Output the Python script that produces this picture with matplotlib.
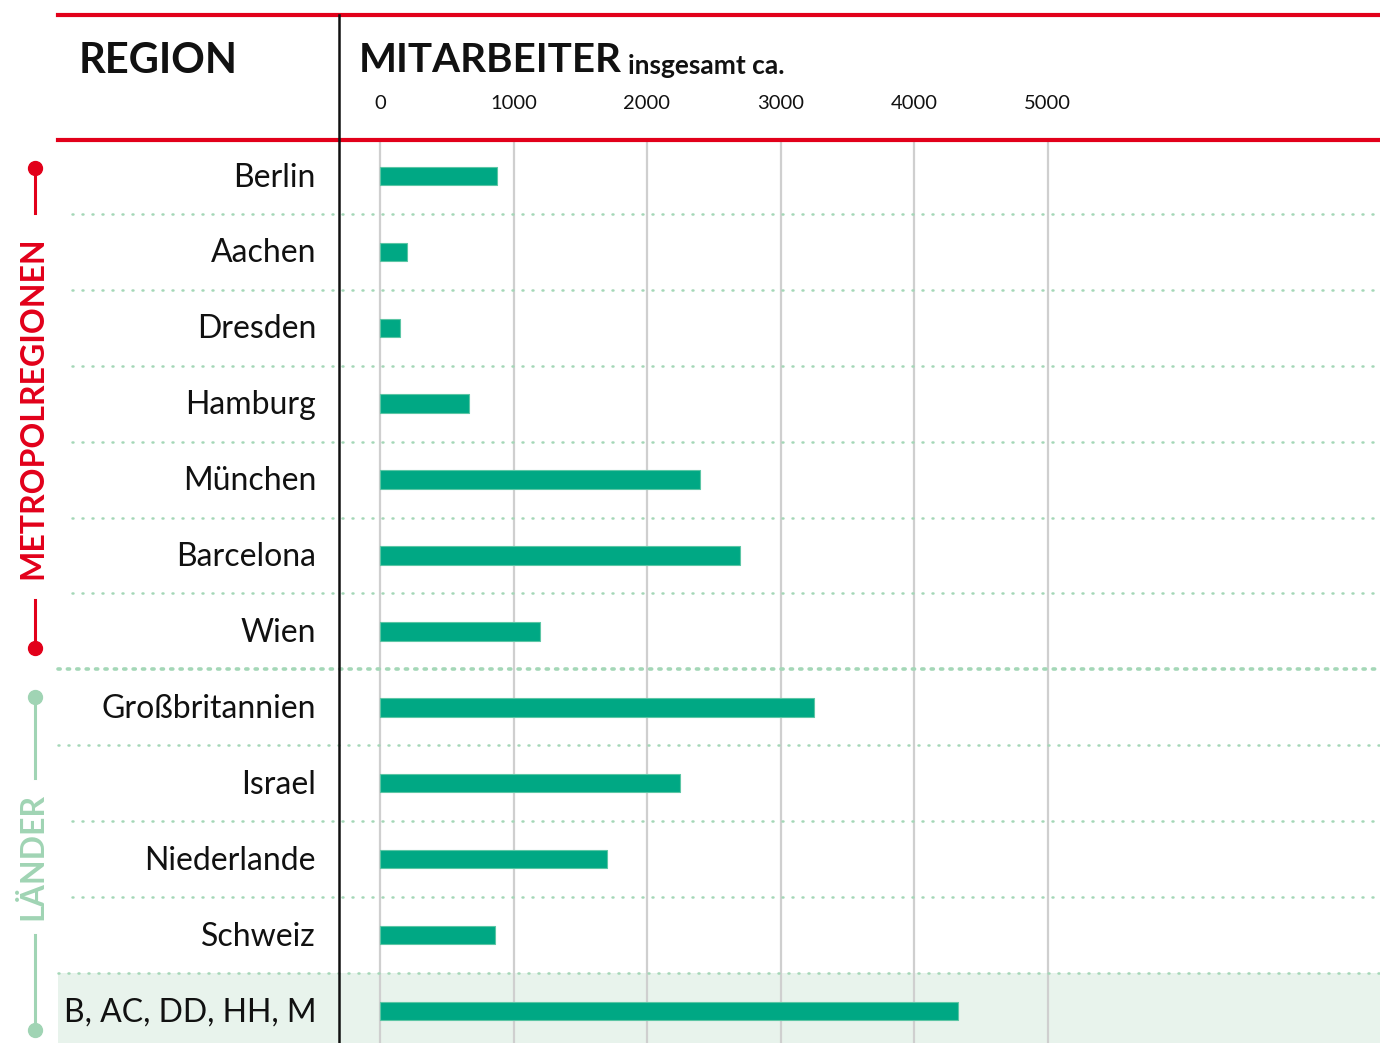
import matplotlib
matplotlib.use("Agg")
import matplotlib.pyplot as plt
from matplotlib.lines import Line2D

plt.rcParams['font.family'] = ['Lato', 'DejaVu Sans']

# ---- data ----
regions = ["Berlin", "Aachen", "Dresden", "Hamburg", "München", "Barcelona", "Wien",
           "Großbritannien", "Israel", "Niederlande", "Schweiz", "B, AC, DD, HH, M"]
employees = [880, 200, 150, 670, 2400, 2700, 1200, 3250, 2250, 1700, 860, 4330]
ticks = [0, 1000, 2000, 3000, 4000, 5000]
tick_labels = ["0", "1000", "2000", "3000", "4000", "5000"]
group_labels = ["METROPOLREGIONEN", "LÄNDER"]
title_left = "REGION"
title_right = "MITARBEITER"
title_sub = "insgesamt ca."

# ---- style ----
RED = "#e2001a"
BAR = "#00a884"
DOT = "#a4d7b7"
LGREEN = "#a0d4b4"
HILITE = "#e8f3ec"
GRID = "#cfcfcf"

W, H = 1380, 1043
fig = plt.figure(figsize=(W / 100, H / 100), dpi=100)

# pixel <-> data mapping for main axes
X0, XS = 380.0, 0.1335      # pixel of value 0, pixels per unit
Y0, YS = 176.0, 75.9        # pixel of row 0, pixels per row
def vx(p): return (p - X0) / XS
def ry(p): return (p - Y0) / YS

ax = fig.add_axes([0, 0, 1, 1])
ax.set_xlim(vx(0), vx(W))
ax.set_ylim(ry(H), ry(0))
ax.axis("off")

n = len(regions)
rows = list(range(n))

# highlighted last row
ax.axhspan(n - 1.5, ry(H) + 1, xmin=58 / W, xmax=1, color=HILITE, zorder=0, lw=0)

# vertical grid
ax.vlines(ticks, ry(140), ry(H), color=GRID, lw=1.6, zorder=1)

# dotted dividers
for i in range(n - 1):
    y = i + 0.5
    if i == 6:
        ax.plot([vx(58), vx(W)], [y, y], color=DOT, lw=2.6,
                linestyle=(0, (0.6, 2.0)), dash_capstyle='round', zorder=2)
    else:
        start = 58 if i in (7, 10) else 72
        ax.plot([vx(start), vx(W)], [y, y], color=DOT, lw=1.8,
                linestyle=(0, (0.4, 3.6)), dash_capstyle='round', zorder=2)

# bars
ax.barh(rows, employees, left=0, height=0.245, color=BAR,
        edgecolor="#5cc6a5", linewidth=0.8, zorder=3)

# region labels
for r, name in zip(rows, regions):
    ax.text(vx(316), r + 0.02, name, ha="right", va="center", fontsize=23,
            color="#111111", zorder=4)

# tick labels in header
for t, lab in zip(ticks, tick_labels):
    ax.text(t, ry(104), lab, ha="center", va="center", fontsize=14.5,
            color="#111111")

# ---- decorations in pixel overlay ----
ov = fig.add_axes([0, 0, 1, 1], facecolor="none")
ov.set_xlim(0, W)
ov.set_ylim(H, 0)
ov.axis("off")

ov.add_line(Line2D([58, W], [15, 15], color=RED, lw=3.0))
ov.add_line(Line2D([58, W], [140, 140], color=RED, lw=3.0))
ov.add_line(Line2D([339, 339], [15, H], color="#111111", lw=1.8))

ov.text(79, 61, title_left, fontsize=30, fontweight="bold", ha="left",
        va="center", color="#111111")
t_main = ov.text(359, 61, title_right, fontsize=29, fontweight="bold", ha="left",
                 va="center", color="#111111")
fig.canvas.draw()
bb = t_main.get_window_extent()
sub_x = bb.x1 + 6
ov.text(sub_x, 66, title_sub, fontsize=19, fontweight="bold", ha="left",
        va="center", color="#111111")

# group brackets
bx = 35
ov.add_line(Line2D([bx, bx], [168, 213], color=RED, lw=2.2))
ov.add_line(Line2D([bx, bx], [600, 648], color=RED, lw=2.2))
ov.plot([bx, bx], [168, 648], ls="none", marker="o", ms=10, color=RED)
ov.text(bx - 2, 408, group_labels[0], rotation=90, ha="center", va="center",
        fontsize=23, fontweight="bold", color=RED)

ov.add_line(Line2D([bx, bx], [697, 778], color=LGREEN, lw=2.2))
ov.add_line(Line2D([bx, bx], [935, 1030], color=LGREEN, lw=2.2))
ov.plot([bx, bx], [697, 1030], ls="none", marker="o", ms=10, color=LGREEN)
ov.text(bx - 2, 857, group_labels[1], rotation=90, ha="center", va="center",
        fontsize=23, fontweight="bold", color=LGREEN)

fig.savefig("out.png", dpi=100)
